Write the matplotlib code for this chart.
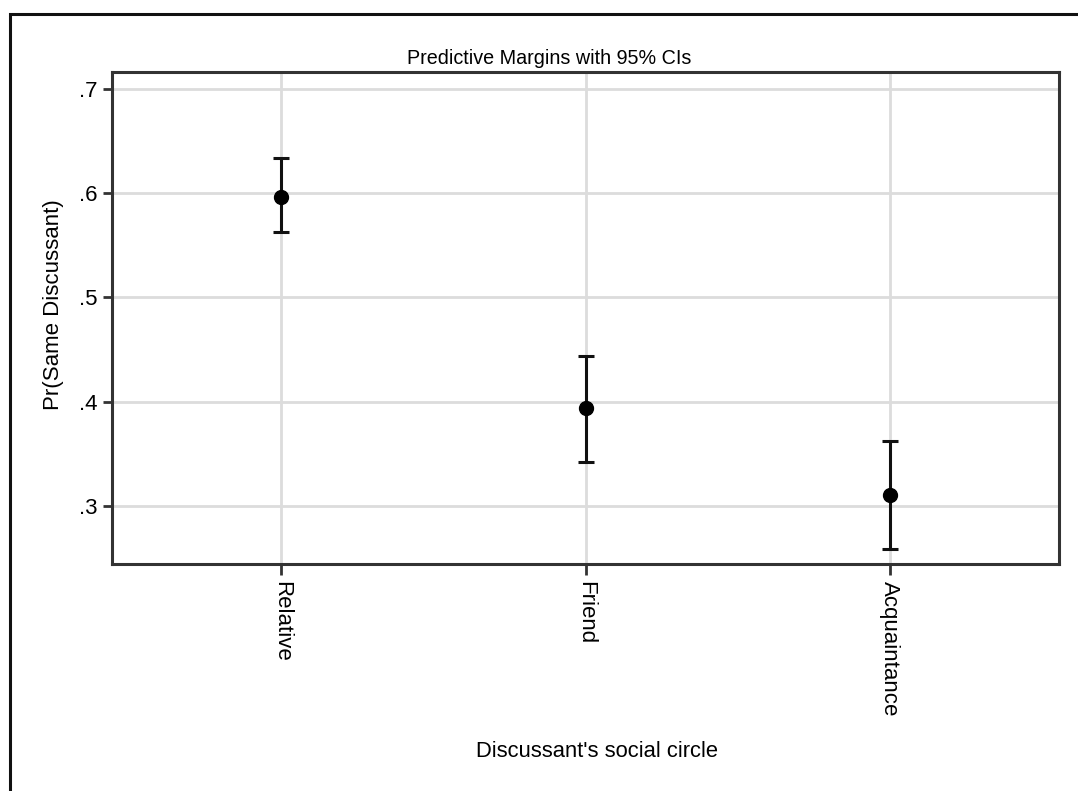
import matplotlib
matplotlib.use("Agg")
import matplotlib.pyplot as plt
from matplotlib.patches import Rectangle

# Predictive margins with 95% CIs
categories = ["Relative", "Friend", "Acquaintance"]
margins = [0.597, 0.394, 0.310]
ci_low = [0.563, 0.342, 0.258]
ci_high = [0.634, 0.444, 0.362]
y_ticks = [0.3, 0.4, 0.5, 0.6, 0.7]
y_tick_labels = [".3", ".4", ".5", ".6", ".7"]

plt.rcParams['font.family'] = ['Liberation Sans', 'DejaVu Sans']

W, H = 1078, 791
fig = plt.figure(figsize=(W / 100, H / 100), dpi=100)
fig.patch.set_facecolor('white')

# outer frame of the graph region
fig.patches.append(Rectangle((9.5 / W, -0.5), 2, 1.5 - 13.5 / H, transform=fig.transFigure,
                             fill=False, edgecolor='#111111', linewidth=2.2, zorder=0))

ax = fig.add_axes([112 / W, 1 - 564 / H, (1059 - 112) / W, (564 - 72) / H])

x = list(range(1, len(categories) + 1))
yerr = [[m - lo for m, lo in zip(margins, ci_low)],
        [hi - m for m, hi in zip(margins, ci_high)]]
ax.errorbar(x, margins, yerr=yerr, fmt='o', color='black', ecolor='#111111',
            markersize=10, elinewidth=2.2, capsize=5.5, capthick=2.2, zorder=3)

ax.set_xlim(0.444, 3.556)
ax.set_ylim(0.244, 0.7166)
ax.set_xticks(x)
ax.set_xticklabels(categories, rotation=-90, va='top', ha='center', fontsize=16)
ax.set_yticks(y_ticks)
ax.set_yticklabels(y_tick_labels, fontsize=16)

ax.grid(True, color='#dcdcdc', linewidth=2)
ax.set_axisbelow(True)
for s in ax.spines.values():
    s.set_color('#333333')
    s.set_linewidth(2.2)
ax.tick_params(axis='y', direction='out', length=6.5, width=2, color='#333333', pad=4)
ax.tick_params(axis='x', direction='out', length=8, width=2, color='#333333', pad=4)

ax.set_ylabel("Pr(Same Discussant)", fontsize=16)
ax.yaxis.set_label_coords(-0.062, 0.528)
ax.set_xlabel("Discussant's social circle", fontsize=15.8)
ax.xaxis.set_label_coords(0.512, -0.382)
ax.xaxis.label.set_va('center')
ax.yaxis.label.set_va('center')

fig.text(549 / W, 1 - 58 / H, "Predictive Margins with 95% CIs", fontsize=14.2,
         ha='center', va='center')

fig.savefig("out.png", dpi=100)
